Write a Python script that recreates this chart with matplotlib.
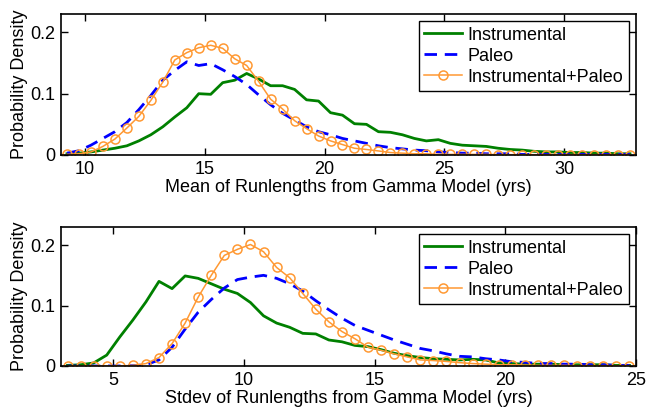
import matplotlib
matplotlib.use("Agg")
import matplotlib.pyplot as plt

plt.rcParams['font.family'] = ['Liberation Sans', 'DejaVu Sans']
plt.rcParams['font.size'] = 13

# ---- Mean of runlengths (bin centres, yrs) ----
mean_x = [9.25, 9.75, 10.25, 10.75, 11.25, 11.75, 12.25, 12.75, 13.25, 13.75,
          14.25, 14.75, 15.25, 15.75, 16.25, 16.75, 17.25, 17.75, 18.25, 18.75,
          19.25, 19.75, 20.25, 20.75, 21.25, 21.75, 22.25, 22.75, 23.25, 23.75,
          24.25, 24.75, 25.25, 25.75, 26.25, 26.75, 27.25, 27.75, 28.25, 28.75,
          29.25, 29.75, 30.25, 30.75, 31.25, 31.75, 32.25, 32.75]
mean_instr = [0.002, 0.003, 0.005, 0.008, 0.011, 0.015, 0.023, 0.033, 0.046, 0.062,
              0.077, 0.100, 0.099, 0.118, 0.122, 0.133, 0.124, 0.113, 0.113, 0.107,
              0.090, 0.088, 0.069, 0.065, 0.051, 0.050, 0.038, 0.037, 0.033, 0.027,
              0.023, 0.025, 0.019, 0.016, 0.015, 0.014, 0.011, 0.009, 0.008, 0.006,
              0.005, 0.005, 0.004, 0.004, 0.003, 0.003, 0.002, 0.002]
mean_paleo = [0.003, 0.007, 0.016, 0.027, 0.038, 0.053, 0.074, 0.097, 0.122, 0.138,
              0.152, 0.146, 0.149, 0.139, 0.128, 0.115, 0.098, 0.082, 0.068, 0.057,
              0.046, 0.038, 0.033, 0.027, 0.023, 0.019, 0.015, 0.012, 0.010, 0.008,
              0.007, 0.005, 0.004, 0.003, 0.003, 0.002, 0.002, 0.002, 0.001, 0.001,
              0.001, 0.001, 0.001, 0.001, 0.001, 0.001, 0.001, 0.001]
mean_both = [0.001, 0.002, 0.005, 0.014, 0.026, 0.044, 0.063, 0.089, 0.119, 0.155,
             0.167, 0.175, 0.179, 0.174, 0.157, 0.146, 0.120, 0.091, 0.075, 0.056,
             0.043, 0.031, 0.023, 0.017, 0.011, 0.009, 0.0066, 0.004, 0.003, 0.002,
             0.002, 0.001, 0.001, 0.001, 0.001, 0.001, 0.0005, 0.0005, 0.0005, 0.0005,
             0.0005, 0.0005, 0.0005, 0.0005, 0.0005, 0.0005, 0.0005, 0.0005]

# ---- Stdev of runlengths (bin centres, yrs) ----
std_x = [3.25, 3.75, 4.25, 4.75, 5.25, 5.75, 6.25, 6.75, 7.25, 7.75,
         8.25, 8.75, 9.25, 9.75, 10.25, 10.75, 11.25, 11.75, 12.25, 12.75,
         13.25, 13.75, 14.25, 14.75, 15.25, 15.75, 16.25, 16.75, 17.25, 17.75,
         18.25, 18.75, 19.25, 19.75, 20.25, 20.75, 21.25, 21.75, 22.25, 22.75,
         23.25, 23.75, 24.25, 24.75]
std_instr = [0.001, 0.002, 0.005, 0.018, 0.048, 0.076, 0.106, 0.140, 0.128, 0.149,
             0.145, 0.136, 0.127, 0.120, 0.105, 0.083, 0.071, 0.064, 0.054, 0.053,
             0.043, 0.040, 0.034, 0.032, 0.027, 0.021, 0.017, 0.014, 0.012, 0.011,
             0.010, 0.011, 0.010, 0.005, 0.004, 0.003, 0.003, 0.003, 0.002, 0.002,
             0.002, 0.002, 0.001, 0.001]
std_paleo = [0.0, 0.0, 0.0, 0.0, 0.0, 0.0005, 0.002, 0.010, 0.031, 0.061,
             0.089, 0.110, 0.129, 0.143, 0.147, 0.150, 0.145, 0.136, 0.124, 0.108,
             0.093, 0.079, 0.067, 0.059, 0.051, 0.043, 0.036, 0.029, 0.025, 0.020,
             0.016, 0.015, 0.012, 0.010, 0.007, 0.006, 0.004, 0.004, 0.003, 0.003,
             0.002, 0.002, 0.001, 0.001]
std_both = [0.0, 0.0, 0.0, 0.0, 0.0, 0.001, 0.004, 0.014, 0.037, 0.071,
            0.114, 0.150, 0.183, 0.193, 0.201, 0.189, 0.163, 0.146, 0.120, 0.094,
            0.073, 0.057, 0.045, 0.031, 0.026, 0.020, 0.015, 0.010, 0.009, 0.0075,
            0.0055, 0.004, 0.003, 0.002, 0.002, 0.0015, 0.001, 0.001, 0.001, 0.0005,
            0.0005, 0.0005, 0.0005, 0.0005]

series_labels = ['Instrumental', 'Paleo', 'Instrumental+Paleo']
y_ticks = [0, 0.1, 0.2]
y_ticklabels = ['0', '0.1', '0.2']

GREEN = '#008000'
BLUE = '#0000ff'
ORANGE = '#ff9933'

fig = plt.figure(figsize=(6.46, 4.12), dpi=100)
ax_top = fig.add_axes([0.0944, 0.6238, 0.8901, 0.3422])
ax_bot = fig.add_axes([0.0944, 0.1117, 0.8901, 0.3374])


def draw_panel(ax, x, instr, paleo, both, xlim, xticks, xlabel):
    ax.plot(x, instr, color=GREEN, lw=2.0, label=series_labels[0])
    ax.plot(x, paleo, color=BLUE, lw=2.0, ls=(0, (4.5, 2.8)), label=series_labels[1])
    ax.plot(x, both, color=ORANGE, lw=1.1, marker='o', ms=6.5, mfc='none',
            mec=ORANGE, mew=1.1, label=series_labels[2])
    ax.set_xlim(*xlim)
    ax.set_ylim(0, 0.23)
    ax.set_xticks(xticks)
    ax.set_xticklabels([str(t) for t in xticks])
    ax.set_yticks(y_ticks)
    ax.set_yticklabels(y_ticklabels)
    ax.tick_params(direction='in', length=5, width=1.0, top=True, right=True,
                   labelsize=13, pad=4)
    for sp in ax.spines.values():
        sp.set_linewidth(1.2)
        sp.set_color('black')
    ax.set_xlabel(xlabel, fontsize=13, labelpad=1)
    ax.set_ylabel('Probability Density', fontsize=13, labelpad=2)
    leg = ax.legend(loc='upper right', fontsize=13, frameon=True, fancybox=False,
                    edgecolor='black', framealpha=1, borderpad=0.3,
                    labelspacing=0.22, handlelength=2.1, handletextpad=0.3,
                    borderaxespad=0.4)
    leg.get_frame().set_linewidth(1.0)


draw_panel(ax_top, mean_x, mean_instr, mean_paleo, mean_both,
           (9, 33), [10, 15, 20, 25, 30], 'Mean of Runlengths from Gamma Model (yrs)')
draw_panel(ax_bot, std_x, std_instr, std_paleo, std_both,
           (3, 25), [5, 10, 15, 20, 25], 'Stdev of Runlengths from Gamma Model (yrs)')

fig.savefig('out.png', dpi=100)
